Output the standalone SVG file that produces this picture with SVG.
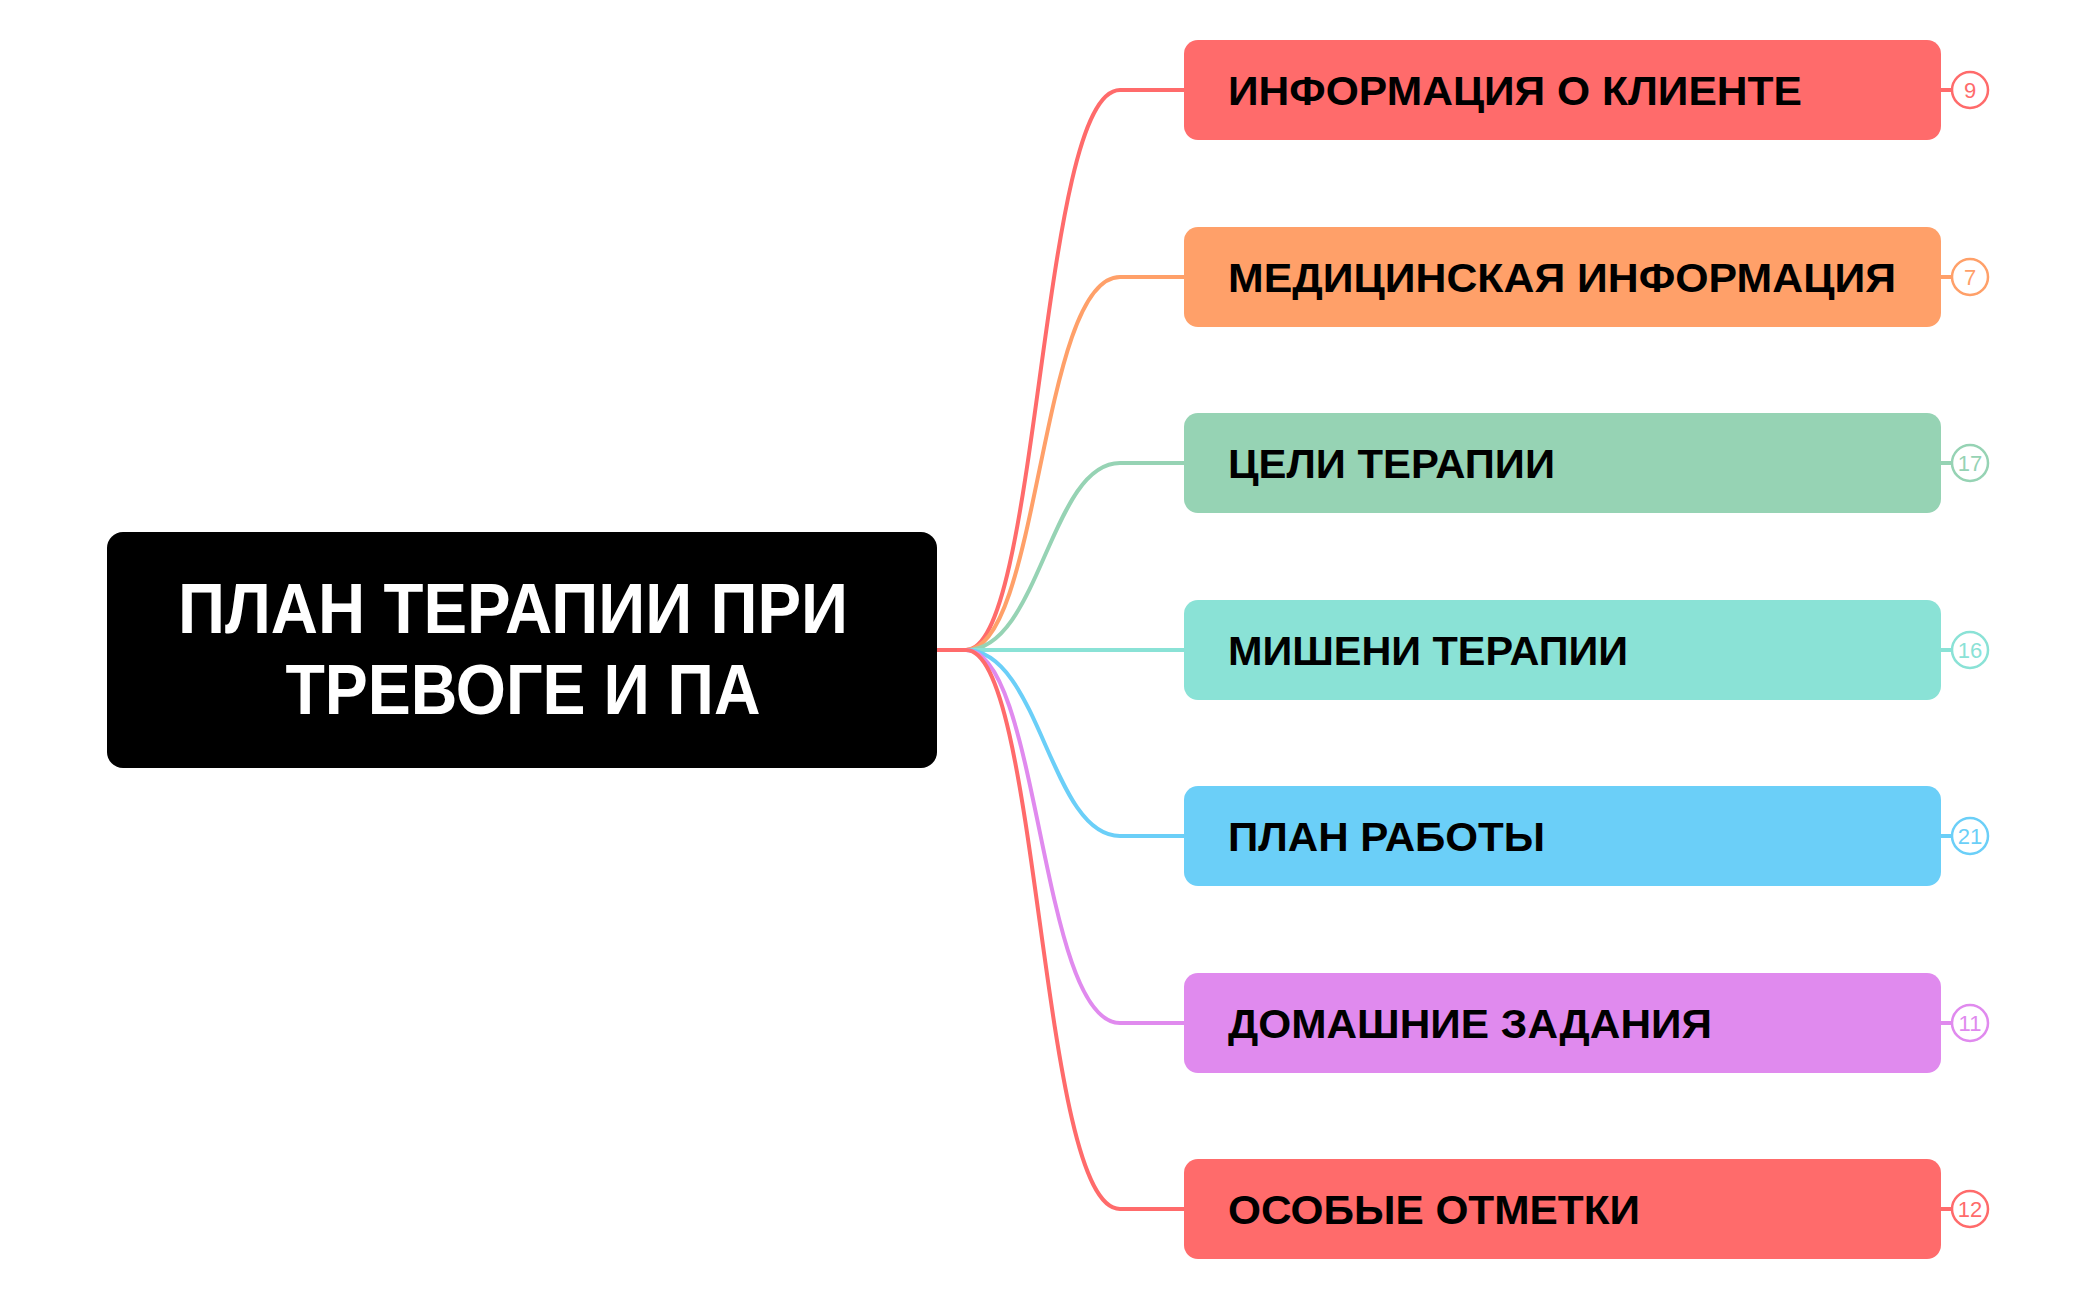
<svg xmlns="http://www.w3.org/2000/svg" width="2097" height="1300" viewBox="0 0 2097 1300">
<style>
.t{font-family:"Liberation Sans",Arial,sans-serif;font-size:40px;font-weight:bold;fill:#000}
.c{fill:#fff;stroke-width:2.5}
.n{font-family:"Liberation Sans",Arial,sans-serif;font-size:22px;text-anchor:middle}
.l{fill:none;stroke-width:4}
</style>
<rect width="2097" height="1300" fill="#fff"/>
<g id="connectors">
<path class="l" stroke="#FF6B6B" d="M937,650 L966,650"/>
<path class="l" stroke="#FF6B6B" d="M966,650 C1040,650 1040,90 1120,90 L1184,90"/>
<path class="l" stroke="#FFA069" d="M966,650 C1040,650 1040,277 1120,277 L1184,277"/>
<path class="l" stroke="#96D3B4" d="M966,650 C1040,650 1050,463 1120,463 L1184,463"/>
<path class="l" stroke="#8AE2D6" d="M966,650 L1184,650"/>
<path class="l" stroke="#6BCFF8" d="M966,650 C1040,650 1050,836 1120,836 L1184,836"/>
<path class="l" stroke="#E08AEE" d="M966,650 C1040,650 1040,1023 1120,1023 L1184,1023"/>
<path class="l" stroke="#FF6B6B" d="M966,650 C1040,650 1040,1209 1120,1209 L1184,1209"/>
</g>
<g id="root">
<rect x="107" y="532" width="830" height="236" rx="16" fill="#000"/>
<text x="513" y="633" font-family="'Liberation Sans',Arial,sans-serif" font-size="70" font-weight="bold" fill="#fff" text-anchor="middle" textLength="670" lengthAdjust="spacingAndGlyphs">ПЛАН ТЕРАПИИ ПРИ</text>
<text x="523" y="714" font-family="'Liberation Sans',Arial,sans-serif" font-size="70" font-weight="bold" fill="#fff" text-anchor="middle" textLength="475" lengthAdjust="spacingAndGlyphs">ТРЕВОГЕ И ПА</text>
</g>
<g id="n1"><rect x="1184" y="40" width="757" height="100" rx="14" fill="#FF6B6B"/><text class="t" x="1228" y="105" textLength="574" lengthAdjust="spacingAndGlyphs">ИНФОРМАЦИЯ О КЛИЕНТЕ</text><path d="M1941,90 H1952" stroke="#FF6B6B" stroke-width="4"/><circle class="c" cx="1970" cy="90" r="18" stroke="#FF6B6B"/><text class="n" x="1970" y="98" fill="#FF6B6B">9</text></g>
<g id="n2"><rect x="1184" y="227" width="757" height="100" rx="14" fill="#FFA069"/><text class="t" x="1228" y="292" textLength="668" lengthAdjust="spacingAndGlyphs">МЕДИЦИНСКАЯ ИНФОРМАЦИЯ</text><path d="M1941,277 H1952" stroke="#FFA069" stroke-width="4"/><circle class="c" cx="1970" cy="277" r="18" stroke="#FFA069"/><text class="n" x="1970" y="285" fill="#FFA069">7</text></g>
<g id="n3"><rect x="1184" y="413" width="757" height="100" rx="14" fill="#96D3B4"/><text class="t" x="1228" y="478" textLength="327" lengthAdjust="spacingAndGlyphs">ЦЕЛИ ТЕРАПИИ</text><path d="M1941,463 H1952" stroke="#96D3B4" stroke-width="4"/><circle class="c" cx="1970" cy="463" r="18" stroke="#96D3B4"/><text class="n" x="1970" y="471" fill="#96D3B4">17</text></g>
<g id="n4"><rect x="1184" y="600" width="757" height="100" rx="14" fill="#8AE2D6"/><text class="t" x="1228" y="665" textLength="400" lengthAdjust="spacingAndGlyphs">МИШЕНИ ТЕРАПИИ</text><path d="M1941,650 H1952" stroke="#8AE2D6" stroke-width="4"/><circle class="c" cx="1970" cy="650" r="18" stroke="#8AE2D6"/><text class="n" x="1970" y="658" fill="#8AE2D6">16</text></g>
<g id="n5"><rect x="1184" y="786" width="757" height="100" rx="14" fill="#6BCFF8"/><text class="t" x="1228" y="851" textLength="317" lengthAdjust="spacingAndGlyphs">ПЛАН РАБОТЫ</text><path d="M1941,836 H1952" stroke="#6BCFF8" stroke-width="4"/><circle class="c" cx="1970" cy="836" r="18" stroke="#6BCFF8"/><text class="n" x="1970" y="844" fill="#6BCFF8">21</text></g>
<g id="n6"><rect x="1184" y="973" width="757" height="100" rx="14" fill="#E08AEE"/><text class="t" x="1228" y="1038" textLength="484" lengthAdjust="spacingAndGlyphs">ДОМАШНИЕ ЗАДАНИЯ</text><path d="M1941,1023 H1952" stroke="#E08AEE" stroke-width="4"/><circle class="c" cx="1970" cy="1023" r="18" stroke="#E08AEE"/><text class="n" x="1970" y="1031" fill="#E08AEE">11</text></g>
<g id="n7"><rect x="1184" y="1159" width="757" height="100" rx="14" fill="#FF6B6B"/><text class="t" x="1228" y="1224" textLength="412" lengthAdjust="spacingAndGlyphs">ОСОБЫЕ ОТМЕТКИ</text><path d="M1941,1209 H1952" stroke="#FF6B6B" stroke-width="4"/><circle class="c" cx="1970" cy="1209" r="18" stroke="#FF6B6B"/><text class="n" x="1970" y="1217" fill="#FF6B6B">12</text></g>
</svg>
